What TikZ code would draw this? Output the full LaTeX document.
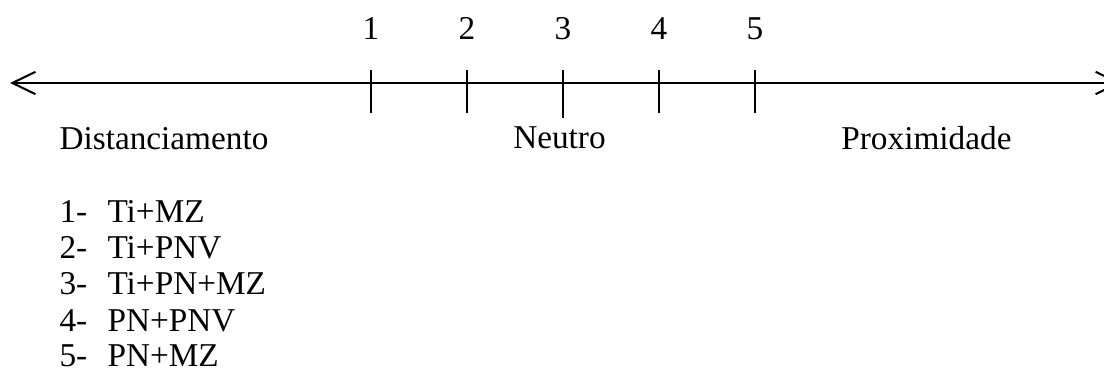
\documentclass[tikz,border=0pt]{standalone}
\usepackage{fontspec}
\setmainfont{Liberation Serif}
\usetikzlibrary{arrows.meta}
\tikzset{
  lbl/.style={inner sep=0pt, anchor=base, font=\fontsize{12.3pt}{13.5pt}\selectfont},
  item/.style={inner sep=0pt, anchor=base west, font=\fontsize{12.3pt}{13.5pt}\selectfont},
  axis/.style={line width=0.75pt, {Straight Barb[length=3mm,width=2.9mm]}-{Straight Barb[length=3mm,width=2.9mm]}},
  tick/.style={line width=0.7pt}
}
\begin{document}
\begin{tikzpicture}
      \useasboundingbox (0,0) rectangle (14.338,4.818);
      \draw
        (0.130,3.740) coordinate (left)
        (14.56,3.740) coordinate (right)
        (4.818,3.909) coordinate (t1a) (4.818,3.351) coordinate (t1b)
        (6.065,3.909) coordinate (t2a) (6.065,3.351) coordinate (t2b)
        (7.312,3.909) coordinate (t3a) (7.312,3.286) coordinate (t3b)
        (8.558,3.909) coordinate (t4a) (8.558,3.351) coordinate (t4b)
        (9.805,3.909) coordinate (t5a) (9.805,3.351) coordinate (t5b);
      \draw[axis] (left) to (right);
      \begin{scope}[tick]
        \draw (t1a) to (t1b);
        \draw (t2a) to (t2b);
        \draw (t3a) to (t3b);
        \draw (t4a) to (t4b);
        \draw (t5a) to (t5b);
      \end{scope}
      % numbers over the ticks
      \node[lbl] (n1) at (4.818,4.299) {1};
      \node[lbl] (n2) at (6.065,4.299) {2};
      \node[lbl] (n3) at (7.312,4.299) {3};
      \node[lbl] (n4) at (8.558,4.299) {4};
      \node[lbl] (n5) at (9.805,4.299) {5};
      % regions
      \node[item] (dist) at (0.766,2.870) {Distanciamento};
      \node[lbl] (neutro) at (7.266,2.883) {Neutro};
      \node[lbl] (prox) at (12.032,2.870) {Proximidade};
      % legend
      \node[item] (k1) at (0.766,1.922) {1-}; \node[item] (v1) at (1.390,1.922) {Ti+MZ};
      \node[item] (k2) at (0.766,1.455) {2-}; \node[item] (v2) at (1.390,1.455) {Ti+PNV};
      \node[item] (k3) at (0.766,0.987) {3-}; \node[item] (v3) at (1.390,0.987) {Ti+PN+MZ};
      \node[item] (k4) at (0.766,0.519) {4-}; \node[item] (v4) at (1.390,0.519) {PN+PNV};
      \node[item] (k5) at (0.766,0.052) {5-}; \node[item] (v5) at (1.390,0.052) {PN+MZ};
    \end{tikzpicture}
\end{document}
